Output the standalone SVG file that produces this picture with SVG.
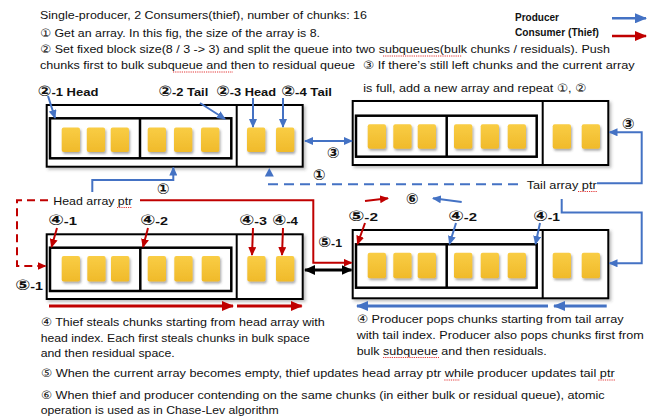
<svg xmlns="http://www.w3.org/2000/svg" width="647" height="416" viewBox="0 0 647 416">
<style>
text{font-family:"Liberation Sans","DejaVu Sans",sans-serif;fill:#111}
.body{font-size:11.5px}
.lbl{font-size:11.5px;font-weight:bold}
.c{font-size:14.5px}
.num{font-size:15px;font-weight:bold;text-anchor:middle}
.leg{font-size:10.5px;font-weight:bold}
.outer{fill:#fff;stroke:#000;stroke-width:2}
.div{stroke:#000;stroke-width:2}
.inner{fill:none;stroke:#000;stroke-width:2.5}
.chunk{fill:url(#cg);filter:url(#csh)}
.b{fill:none;stroke:#4472C4;stroke-width:2}
.r{fill:none;stroke:#C00000;stroke-width:2}
.bm{marker-end:url(#ab)}
.rm{marker-end:url(#ar)}
.sq{stroke:#E02020;stroke-width:0.9;stroke-dasharray:1.2 1}
</style>
<defs>
<linearGradient id="cg" x1="0" y1="0" x2="0" y2="1">
<stop offset="0" stop-color="#F9CD45"/>
<stop offset="1" stop-color="#F0BA2A"/>
</linearGradient>
<filter id="csh" x="-30%" y="-30%" width="170%" height="170%">
<feDropShadow dx="1.2" dy="2" stdDeviation="1.3" flood-color="#444" flood-opacity="0.45"/>
</filter>
<filter id="ash" x="-5%" y="-10%" width="110%" height="125%">
<feDropShadow dx="2" dy="2" stdDeviation="1.5" flood-color="#444" flood-opacity="0.35"/>
</filter>
<marker id="ab" markerUnits="userSpaceOnUse" viewBox="0 0 9 8" markerWidth="9" markerHeight="8" refX="8" refY="4" orient="auto-start-reverse"><path d="M0,0 L9,4 L0,8 z" fill="#4472C4"/></marker>
<marker id="ar" markerUnits="userSpaceOnUse" viewBox="0 0 9 8" markerWidth="9" markerHeight="8" refX="8" refY="4" orient="auto-start-reverse"><path d="M0,0 L9,4 L0,8 z" fill="#C00000"/></marker>
<marker id="abL" markerUnits="userSpaceOnUse" viewBox="0 0 12 10" markerWidth="12" markerHeight="10" refX="11" refY="5" orient="auto"><path d="M0,0 L12,5 L0,10 z" fill="#4472C4"/></marker>
<marker id="arL" markerUnits="userSpaceOnUse" viewBox="0 0 12 10" markerWidth="12" markerHeight="10" refX="11" refY="5" orient="auto"><path d="M0,0 L12,5 L0,10 z" fill="#C00000"/></marker>
<marker id="ak" markerUnits="userSpaceOnUse" viewBox="0 0 11 10" markerWidth="11" markerHeight="10" refX="10" refY="5" orient="auto-start-reverse"><path d="M0,0 L11,5 L0,10 z" fill="#000"/></marker>
</defs>
<rect width="647" height="416" fill="#fff"/>

<g id="texts">
<text class="body" x="40" y="19" textLength="327" lengthAdjust="spacingAndGlyphs">Single-producer, 2 Consumers(thief), number of chunks: 16</text>
<text class="body" x="40" y="37.3" textLength="280" lengthAdjust="spacingAndGlyphs">① Get an array. In this fig, the size of the array is 8.</text>
<text class="body" x="40" y="53.3" textLength="570" lengthAdjust="spacingAndGlyphs">② Set fixed block size(8 / 3 -&gt; 3)  and split the queue into two subqueues(bulk chunks / residuals). Push</text>
<text class="body" x="40" y="69.3" textLength="315" lengthAdjust="spacingAndGlyphs">chunks first to bulk subqueue and then to residual queue</text>
<text class="body" x="362.7" y="69.3" textLength="272" lengthAdjust="spacingAndGlyphs">③ If there’s still left chunks and the current array</text>
<text class="body" x="363.3" y="91.5" textLength="223" lengthAdjust="spacingAndGlyphs">is full, add a new array and repeat ①, ②</text>
<text class="body" x="40.7" y="326" textLength="284" lengthAdjust="spacingAndGlyphs">④ Thief steals chunks starting from head array with</text>
<text class="body" x="40.7" y="341.7" textLength="269" lengthAdjust="spacingAndGlyphs">head index. Each first steals chunks in bulk space</text>
<text class="body" x="40.7" y="356.7" textLength="134" lengthAdjust="spacingAndGlyphs">and then residual space.</text>
<text class="body" x="40.7" y="377.3" textLength="574" lengthAdjust="spacingAndGlyphs">⑤ When the current array becomes empty, thief updates head array ptr while producer updates tail ptr</text>
<text class="body" x="40.7" y="399" textLength="564" lengthAdjust="spacingAndGlyphs">⑥ When thief and producer contending on the same chunks (in either bulk or residual queue), atomic</text>
<text class="body" x="40.7" y="414" textLength="238" lengthAdjust="spacingAndGlyphs">operation is used as in Chase-Lev algorithm</text>
<text class="body" x="356.7" y="323.3" textLength="267" lengthAdjust="spacingAndGlyphs">④ Producer pops chunks starting from tail array</text>
<text class="body" x="356.7" y="339.3" textLength="287" lengthAdjust="spacingAndGlyphs">with tail index. Producer also pops chunks first from</text>
<text class="body" x="356.7" y="355" textLength="190" lengthAdjust="spacingAndGlyphs">bulk subqueue and then residuals.</text>
<text class="body" x="53.3" y="205" textLength="79" lengthAdjust="spacingAndGlyphs">Head array ptr</text>
<text class="body" x="526.7" y="189" textLength="70" lengthAdjust="spacingAndGlyphs">Tail array ptr</text>
<line class="sq" x1="383" y1="56" x2="461.7" y2="56"/>
<line class="sq" x1="173" y1="72" x2="233" y2="72"/>
<line class="sq" x1="117" y1="207.5" x2="132" y2="207.5"/>
<line class="sq" x1="578" y1="191.5" x2="597" y2="191.5"/>
<line class="sq" x1="383" y1="357.5" x2="439" y2="357.5"/>
<line class="sq" x1="444.3" y1="380" x2="460" y2="380"/>
<line class="sq" x1="598.3" y1="380" x2="615" y2="380"/>
</g>

<g id="legend">
<text class="leg" x="515" y="20.7" textLength="44" lengthAdjust="spacingAndGlyphs">Producer</text>
<text class="leg" x="515" y="36" textLength="84" lengthAdjust="spacingAndGlyphs">Consumer (Thief)</text>
</g>

<g id="labels">
<text class="lbl" x="37.5" y="95.5" textLength="61" lengthAdjust="spacingAndGlyphs"><tspan class="c">②</tspan>-1 Head</text>
<text class="lbl" x="158.3" y="95.5" textLength="50" lengthAdjust="spacingAndGlyphs"><tspan class="c">②</tspan>-2 Tail</text>
<text class="lbl" x="216" y="95.5" textLength="60" lengthAdjust="spacingAndGlyphs"><tspan class="c">②</tspan>-3 Head</text>
<text class="lbl" x="281" y="95.5" textLength="51" lengthAdjust="spacingAndGlyphs"><tspan class="c">②</tspan>-4 Tail</text>
<text class="lbl" x="48" y="224.8" textLength="29" lengthAdjust="spacingAndGlyphs"><tspan class="c">④</tspan>-1</text>
<text class="lbl" x="140" y="224.8" textLength="28" lengthAdjust="spacingAndGlyphs"><tspan class="c">④</tspan>-2</text>
<text class="lbl" x="239" y="224.8" textLength="28" lengthAdjust="spacingAndGlyphs"><tspan class="c">④</tspan>-3</text>
<text class="lbl" x="272" y="224.8" textLength="26" lengthAdjust="spacingAndGlyphs"><tspan class="c">④</tspan>-4</text>
<text class="lbl" x="348" y="221.2" textLength="30" lengthAdjust="spacingAndGlyphs"><tspan class="c">⑤</tspan>-2</text>
<text class="lbl" x="448" y="221.2" textLength="29" lengthAdjust="spacingAndGlyphs"><tspan class="c">④</tspan>-2</text>
<text class="lbl" x="533" y="221.2" textLength="27" lengthAdjust="spacingAndGlyphs"><tspan class="c">④</tspan>-1</text>
<text class="lbl" x="318" y="246.5" textLength="24" lengthAdjust="spacingAndGlyphs"><tspan class="c">⑤</tspan>-1</text>
<text class="lbl" x="15" y="289.5" textLength="28" lengthAdjust="spacingAndGlyphs"><tspan class="c">⑤</tspan>-1</text>
<text class="num" x="163" y="193.5">①</text>
<text class="num" x="319" y="179.5">①</text>
<text class="num" x="333" y="157.5">③</text>
<text class="num" x="628" y="128.5">③</text>
<text class="num" x="412" y="204">⑥</text>
</g>

<g id="array-A">
<rect class="outer" x="46.7" y="105" width="256" height="61.7" filter="url(#ash)"/>
<line class="div" x1="236.7" y1="105" x2="236.7" y2="166.7"/>
<rect class="inner" x="50" y="118.3" width="181.3" height="40"/>
<line class="inner" x1="140" y1="118.3" x2="140" y2="158.3"/>
<rect class="chunk" x="61.7" y="127.5" width="18.3" height="24.5" rx="2"/>
<rect class="chunk" x="86.8" y="127.5" width="18.3" height="24.5" rx="2"/>
<rect class="chunk" x="110.7" y="127.5" width="18.3" height="24.5" rx="2"/>
<rect class="chunk" x="147.7" y="127.5" width="18.3" height="24.5" rx="2"/>
<rect class="chunk" x="174" y="127.5" width="18.3" height="24.5" rx="2"/>
<rect class="chunk" x="201" y="127.5" width="18.3" height="24.5" rx="2"/>
<rect class="chunk" x="247" y="127.5" width="18.3" height="24.5" rx="2"/>
<rect class="chunk" x="276" y="127.5" width="18.3" height="24.5" rx="2"/>
</g>

<g id="array-B">
<rect class="outer" x="352.7" y="101" width="255.6" height="64" filter="url(#ash)"/>
<line class="div" x1="542.7" y1="101" x2="542.7" y2="165"/>
<rect class="inner" x="356" y="115.7" width="180.7" height="41"/>
<line class="inner" x1="446.7" y1="115.7" x2="446.7" y2="156.7"/>
<rect class="chunk" x="367.7" y="124.3" width="18.3" height="24.5" rx="2"/>
<rect class="chunk" x="393.3" y="124.3" width="18.3" height="24.5" rx="2"/>
<rect class="chunk" x="417.7" y="124.3" width="18.3" height="24.5" rx="2"/>
<rect class="chunk" x="454" y="124.3" width="18.3" height="24.5" rx="2"/>
<rect class="chunk" x="480.7" y="124.3" width="18.3" height="24.5" rx="2"/>
<rect class="chunk" x="507.7" y="124.3" width="18.3" height="24.5" rx="2"/>
<rect class="chunk" x="552.7" y="124.3" width="18.3" height="24.5" rx="2"/>
<rect class="chunk" x="581.7" y="124.3" width="18.3" height="24.5" rx="2"/>
</g>

<g id="array-C">
<rect class="outer" x="46.7" y="234.3" width="256" height="64.7" filter="url(#ash)"/>
<line class="div" x1="236.7" y1="234.3" x2="236.7" y2="299"/>
<rect class="inner" x="50" y="247.7" width="181.3" height="43.3"/>
<line class="inner" x1="140.3" y1="247.7" x2="140.3" y2="291"/>
<rect class="chunk" x="61.7" y="256" width="18.3" height="25.5" rx="2"/>
<rect class="chunk" x="87.3" y="256" width="18.3" height="25.5" rx="2"/>
<rect class="chunk" x="111" y="256" width="18.3" height="25.5" rx="2"/>
<rect class="chunk" x="147.7" y="256" width="18.3" height="25.5" rx="2"/>
<rect class="chunk" x="174.3" y="256" width="18.3" height="25.5" rx="2"/>
<rect class="chunk" x="201.7" y="256" width="18.3" height="25.5" rx="2"/>
<rect class="chunk" x="247.3" y="256" width="18.3" height="25.5" rx="2"/>
<rect class="chunk" x="276" y="256" width="18.3" height="25.5" rx="2"/>
</g>

<g id="array-D">
<rect class="outer" x="352.7" y="230" width="255.6" height="68.3" filter="url(#ash)"/>
<line class="div" x1="542.7" y1="230" x2="542.7" y2="298.3"/>
<rect class="inner" x="356" y="244.3" width="180.7" height="43.4"/>
<line class="inner" x1="446.7" y1="244.3" x2="446.7" y2="287.7"/>
<rect class="chunk" x="367.7" y="252.7" width="18.3" height="25.5" rx="2"/>
<rect class="chunk" x="393.3" y="252.7" width="18.3" height="25.5" rx="2"/>
<rect class="chunk" x="417.7" y="252.7" width="18.3" height="25.5" rx="2"/>
<rect class="chunk" x="454" y="252.7" width="18.3" height="25.5" rx="2"/>
<rect class="chunk" x="480.7" y="252.7" width="18.3" height="25.5" rx="2"/>
<rect class="chunk" x="507.7" y="252.7" width="18.3" height="25.5" rx="2"/>
<rect class="chunk" x="552.7" y="252.7" width="18.3" height="25.5" rx="2"/>
<rect class="chunk" x="581.7" y="252.7" width="18.3" height="25.5" rx="2"/>
</g>

<g id="connectors">
<path d="M612,18.3 L646,18.3" stroke="#4472C4" stroke-width="2.5" fill="none" marker-end="url(#abL)"/>
<path d="M612,36 L646,36" stroke="#C00000" stroke-width="2.5" fill="none" marker-end="url(#arL)"/>
<path class="b bm" d="M48,96 L55,118"/>
<path class="b bm" d="M200,103 L225,119"/>
<path class="b bm" d="M253,98 L253,127"/>
<path class="b bm" d="M283,98 L283,127"/>
<path class="b bm" d="M305,141 L352,141" marker-start="url(#ab)"/>
<path class="b bm" d="M597,183.3 L641.7,183.3 L641.7,132.3 L609.5,132.3"/>
<path class="b bm" d="M92.3,192 L92.3,180 L173.3,180 L173.3,167.5"/>
<path class="b" d="M268,184.3 L520,184.3" stroke-dasharray="10 6"/>
<path d="M264.8,176.5 L273.8,176.5 L269.3,168 z" fill="#4472C4"/>
<path class="b bm" d="M561.7,199 L561.7,212.5 L641.7,212.5 L641.7,263.3 L609.5,263.3"/>
<path class="b bm" d="M456,223 L449.5,244"/>
<path class="b bm" d="M540,223 L535.5,244"/>
<path class="b bm" d="M461.7,202 L433,198.3"/>
<path stroke="#4472C4" stroke-width="3" fill="none" marker-end="url(#abL)" d="M548,306 L357,306"/>
<path stroke="#4472C4" stroke-width="3" fill="none" marker-end="url(#abL)" d="M606.7,306 L554,306"/>
<path class="r rm" d="M140,200.3 L313.3,200.3 L313.3,262.7 L351.5,262.7"/>
<path class="r rm" d="M48,200.3 L17,200.3 L17,266 L45.5,266" stroke-dasharray="8 5"/>
<path class="r rm" d="M57,228 L51.5,247"/>
<path class="r rm" d="M148,228 L143,247"/>
<path class="r rm" d="M253,228 L252,255"/>
<path class="r rm" d="M283,228 L282,255"/>
<path class="r rm" d="M365,223 L357.5,244"/>
<path class="r rm" d="M365,201 L388,198.3"/>
<path stroke="#C00000" stroke-width="3" fill="none" marker-end="url(#arL)" d="M49,306 L233,306"/>
<path stroke="#C00000" stroke-width="3" fill="none" marker-end="url(#arL)" d="M237,306 L301.7,306"/>
<path d="M305,270 L351.5,270" stroke="#000" stroke-width="3" fill="none" marker-start="url(#ak)" marker-end="url(#ak)"/>
</g>
</svg>
